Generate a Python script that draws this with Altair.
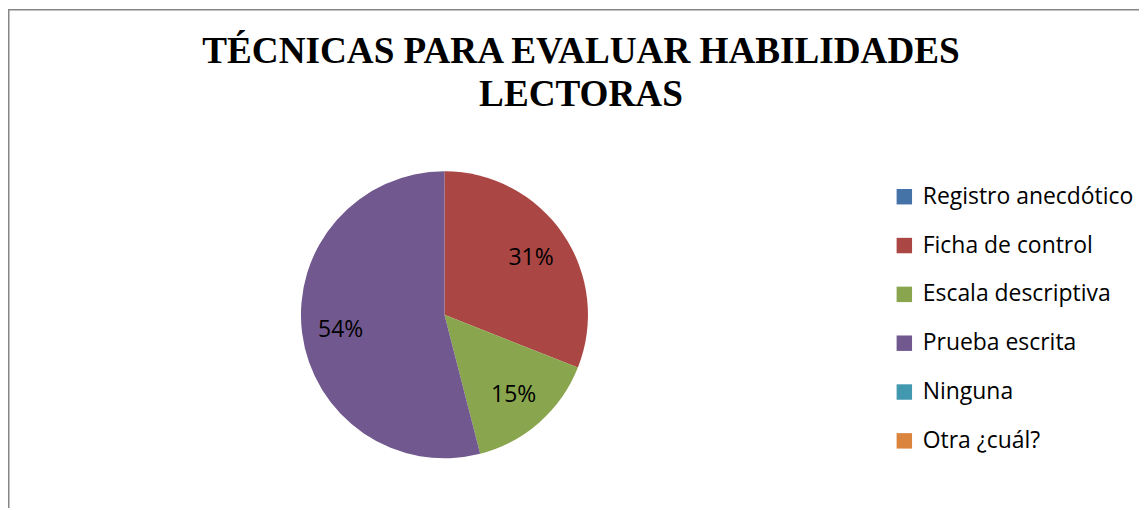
import altair as alt
import pandas as pd

categories = ["Registro anecdótico", "Ficha de control", "Escala descriptiva",
              "Prueba escrita", "Ninguna", "Otra ¿cuál?"]
values = [0, 31, 15, 54, 0, 0]
colors = ["#4572A7", "#AA4643", "#89A54E", "#71588F", "#4198AF", "#DB843D"]
title_lines = ["TÉCNICAS PARA EVALUAR HABILIDADES", "LECTORAS"]

W, H = 1135, 501
CX, CY = 438, 307
FONT = "Open Sans"
FS = 23

df = pd.DataFrame({
    "categoria": categories,
    "valor": values,
    "orden": list(range(len(categories))),
})
df["etiqueta"] = df["valor"].astype(str) + "%"

base = alt.Chart(df).encode(
    theta=alt.Theta("valor:Q", stack=True),
    order=alt.Order("orden:Q"),
)

pie = base.mark_arc(outerRadius=144, stroke=None).encode(
    x=alt.value(CX),
    y=alt.value(CY),
    color=alt.Color(
        "categoria:N",
        scale=alt.Scale(domain=categories, range=colors),
        sort=categories,
        legend=alt.Legend(
            title=None,
            orient="none",
            legendX=888,
            legendY=177,
            padding=0,
            symbolType="square",
            symbolSize=240,
            symbolStrokeWidth=0,
            labelFont=FONT,
            labelFontSize=FS,
            labelColor="#000000",
            labelOffset=7,
            rowPadding=48 - FS,
            labelLimit=400,
        ),
    ),
)

labels = base.mark_text(radius=105, font=FONT, fontSize=FS, color="#000000", dy=2).encode(
    x=alt.value(CX),
    y=alt.value(CY),
    text="etiqueta:N",
).transform_filter("datum.valor > 0")

title_df = pd.DataFrame({"t": ["\n".join(title_lines)]})
title = alt.Chart(title_df).mark_text(
    font="Liberation Serif", fontWeight="bold", fontSize=37.3, color="#000000",
    lineBreak="\n", lineHeight=43, baseline="alphabetic", align="center",
).encode(text="t:N", x=alt.value(575), y=alt.value(54))

frame_top = alt.Chart(title_df).mark_rule(color="#868686", strokeWidth=1.5).encode(
    x=alt.value(0), x2=alt.value(W), y=alt.value(0.75))
frame_left = alt.Chart(title_df).mark_rule(color="#868686", strokeWidth=1.5).encode(
    x=alt.value(0.75), y=alt.value(0), y2=alt.value(H))

chart = alt.layer(frame_top, frame_left, title, pie, labels).properties(
    width=W, height=H, padding=0,
    autosize=alt.AutoSizeParams(type="none"),
).configure_view(stroke=None).resolve_scale(color="shared")

chart.save("out.html", embed_options={"renderer": "svg", "actions": False})
